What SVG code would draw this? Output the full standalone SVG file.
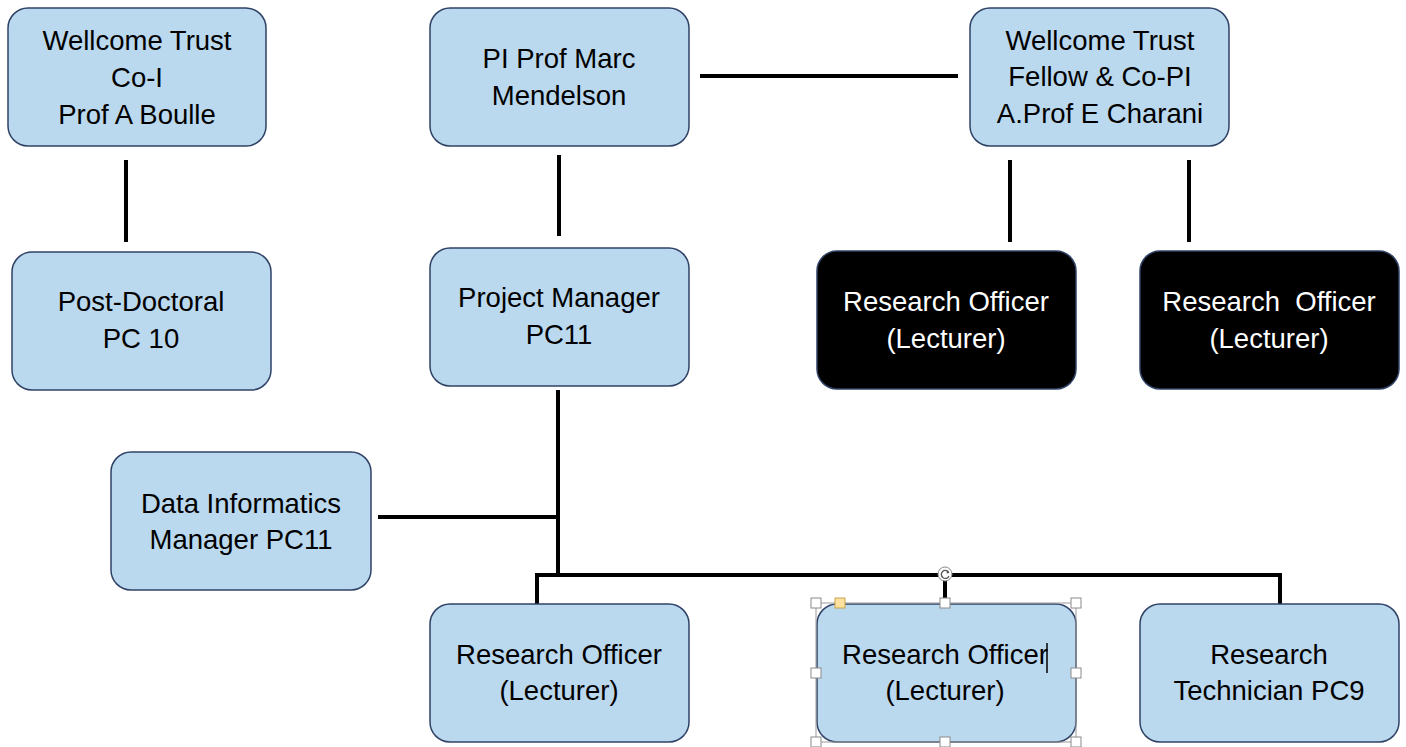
<svg xmlns="http://www.w3.org/2000/svg" width="1406" height="747" viewBox="0 0 1406 747">
<style>
.box{fill:#BAD8EE;stroke:#2F4266;stroke-width:1.5}
.dark{fill:#000;stroke:#2F4266;stroke-width:1.5}
text{font-family:"Liberation Sans",Arial,sans-serif;font-size:27.5px;text-anchor:middle;fill:#000}
.w{fill:#fff}
.ln{stroke:#000;stroke-width:4;fill:none}
.h{fill:#fff;stroke:#8a8a8a;stroke-width:1}
</style>
<rect width="1406" height="747" fill="#fff"/>
<g id="connectors">
<line class="ln" x1="126" y1="160" x2="126" y2="242"/>
<line class="ln" x1="559" y1="155" x2="559" y2="236"/>
<line class="ln" x1="700" y1="76" x2="958" y2="76"/>
<line class="ln" x1="1010" y1="160" x2="1010" y2="242"/>
<line class="ln" x1="1189" y1="160" x2="1189" y2="242"/>
<line class="ln" x1="558" y1="390" x2="558" y2="577"/>
<line class="ln" x1="378" y1="517" x2="558" y2="517"/>
<polyline class="ln" points="537,604 537,575 1280,575 1280,604"/>
<line class="ln" x1="945" y1="575" x2="945" y2="604"/>
</g>
<g id="n1"><rect class="box" x="8" y="8" width="258" height="138" rx="20"/><text x="137" y="50">Wellcome Trust</text><text x="137" y="87">Co-I</text><text x="137" y="124">Prof A Boulle</text></g>
<g id="n2"><rect class="box" x="430" y="8" width="259" height="138" rx="20"/><text x="559" y="68">PI Prof Marc</text><text x="559" y="105">Mendelson</text></g>
<g id="n3"><rect class="box" x="970" y="8" width="259" height="138" rx="20"/><text x="1100" y="50">Wellcome Trust</text><text x="1100" y="86">Fellow &amp; Co-PI</text><text x="1100" y="123">A.Prof E Charani</text></g>
<g id="n4"><rect class="box" x="12" y="252" width="259" height="138" rx="20"/><text x="141" y="311">Post-Doctoral</text><text x="141" y="348">PC 10</text></g>
<g id="n5"><rect class="box" x="430" y="248" width="259" height="138" rx="20"/><text x="559" y="307">Project Manager</text><text x="559" y="344">PC11</text></g>
<g id="n6"><rect class="dark" x="817" y="251" width="259" height="138" rx="20"/><text class="w" x="946" y="311">Research Officer</text><text class="w" x="946" y="348">(Lecturer)</text></g>
<g id="n7"><rect class="dark" x="1140" y="251" width="259" height="138" rx="20"/><text class="w" x="1269" y="311" xml:space="preserve">Research  Officer</text><text class="w" x="1269" y="348">(Lecturer)</text></g>
<g id="n8"><rect class="box" x="111" y="452" width="260" height="138" rx="20"/><text x="241" y="513">Data Informatics</text><text x="241" y="549">Manager PC11</text></g>
<g id="n9"><rect class="box" x="430" y="604" width="259" height="138" rx="20"/><text x="559" y="664">Research Officer</text><text x="559" y="700">(Lecturer)</text></g>
<g id="n10"><rect class="box" x="817" y="604" width="259" height="138" rx="20"/><text x="945" y="664">Research Officer</text><text x="945" y="700">(Lecturer)</text>
<line x1="1047" y1="643" x2="1047" y2="673" stroke="#000" stroke-width="1.5"/>
<rect x="816" y="603" width="260" height="139" fill="none" stroke="#9a9a9a" stroke-width="1"/>
<rect class="h" x="811" y="598" width="10" height="10"/><rect class="h" x="940" y="598" width="10" height="10"/><rect class="h" x="1071" y="598" width="10" height="10"/>
<rect class="h" x="811" y="668" width="10" height="10"/><rect class="h" x="1071" y="668" width="10" height="10"/>
<rect class="h" x="811" y="737" width="10" height="10"/><rect class="h" x="940" y="737" width="10" height="10"/><rect class="h" x="1071" y="737" width="10" height="10"/>
<rect x="835" y="598" width="10" height="10" fill="#FCE1A0" stroke="#C9A24A" stroke-width="1"/>
<circle cx="945" cy="574" r="7" fill="#fff" stroke="#8a8a8a" stroke-width="1"/>
<path d="M948.5 572 A4 4 0 1 0 949 576" fill="none" stroke="#555" stroke-width="1.3"/>
<path d="M946.5 570 L949.5 572.5 L946.8 573.8 Z" fill="#555"/>
</g>
<g id="n11"><rect class="box" x="1140" y="604" width="259" height="138" rx="20"/><text x="1269" y="664">Research</text><text x="1269" y="700">Technician PC9</text></g>
</svg>
